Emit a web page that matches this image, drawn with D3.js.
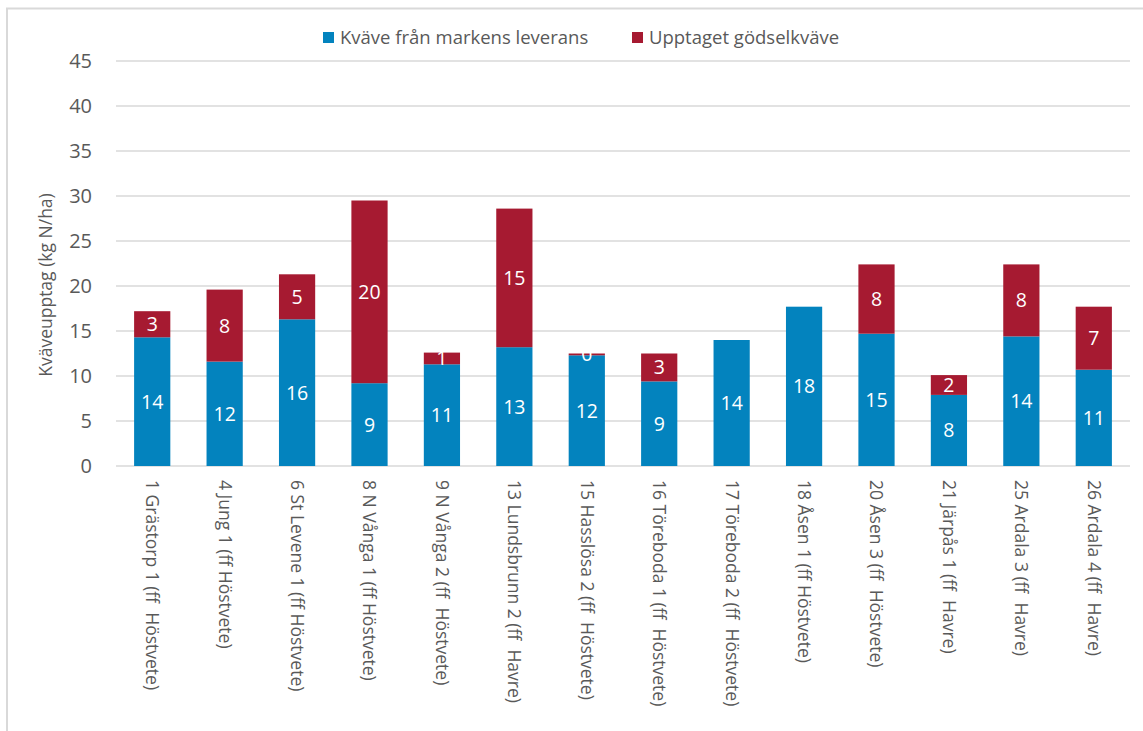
<!DOCTYPE html>
<html>
<head>
<meta charset="utf-8">
<script src="https://cdn.jsdelivr.net/npm/d3@7"></script>
<style>
  body { margin: 0; background: #fff; }
  text { font-family: "Open Sans", "Noto Sans", sans-serif; }
</style>
</head>
<body>
<div id="my_dataviz"></div>
<script>

// categories (sites)
var sites = ["1 Grästorp 1 (ff  Höstvete)", "4 Jung 1 (ff Höstvete)", "6 St Levene 1 (ff Höstvete)",
    "8 N Vånga 1 (ff Höstvete)", "9 N Vånga 2 (ff  Höstvete)", "13 Lundsbrunn 2 (ff  Havre)",
    "15 Hasslösa 2 (ff  Höstvete)", "16 Töreboda 1 (ff  Höstvete)", "17 Töreboda 2 (ff  Höstvete)",
    "18 Åsen 1 (ff Höstvete)", "20 Åsen 3 (ff  Höstvete)", "21 Järpås 1 (ff  Havre)",
    "25 Ardala 3 (ff  Havre)", "26 Ardala 4 (ff  Havre)"]

// series values
var markValues = [14.3, 11.6, 16.3, 9.2, 11.3, 13.2, 12.3, 9.4, 14.0, 17.7, 14.7, 7.9, 14.4, 10.7]
var godselValues = [2.9, 8.0, 5.0, 20.3, 1.3, 15.4, 0.2, 3.1, null, null, 7.7, 2.2, 8.0, 7.0]

var seriesNames = ["Kväve från markens leverans", "Upptaget gödselkväve"]
var yTicks = [0, 5, 10, 15, 20, 25, 30, 35, 40, 45]

var W = 1143, H = 731
var margin = {top: 61, left: 116, right: 13, bottom: 265}
var width = W - margin.left - margin.right,
    height = H - margin.top - margin.bottom

var svg = d3.select("#my_dataviz")
    .append("svg")
    .attr("width", W)
    .attr("height", H)

// outer chart border (only top and left show)
svg.append("path")
    .attr("d", "M7,731 V8.5 H1143")
    .style("fill", "none")
    .style("stroke", "#d9d9d9")
    .style("stroke-width", 2)

var g = svg.append("g")
    .attr("transform", "translate(" + margin.left + "," + margin.top + ")")

var color = d3.scaleOrdinal()
    .domain(seriesNames)
    .range(["#0383be", "#a61a31"])

var x = d3.scaleBand()
    .domain(sites)
    .range([0, width])
    .paddingInner(0.5)
    .paddingOuter(0.25)

var y = d3.scaleLinear()
    .domain([0, 45])
    .range([height, 0])

// gridlines
g.selectAll("grid")
    .data(yTicks).enter()
    .append("line")
    .attr("x1", 0)
    .attr("x2", width)
    .attr("y1", function(d) { return y(d) })
    .attr("y2", function(d) { return y(d) })
    .style("stroke", "#d9d9d9")
    .style("stroke-width", 1.5)

// y axis
var yAxis = g.append("g")
    .call(d3.axisLeft(y).tickValues(yTicks).tickSize(0).tickPadding(24))
yAxis.select(".domain").remove()
yAxis.selectAll("text")
    .style("font-size", "20px")
    .style("fill", "#595959")

svg.append("text")
    .attr("transform", "translate(46,285) rotate(-90)")
    .attr("text-anchor", "middle")
    .attr("dy", "0.35em")
    .style("font-size", "17.5px")
    .style("fill", "#595959")
    .text("Kväveupptag (kg N/ha)")

// stack the data
var rows = sites.map(function(s, i) {
    return {site: s, mark: markValues[i], godsel: godselValues[i] || 0, hasGodsel: godselValues[i] != null}
})
var stacked = d3.stack().keys(["mark", "godsel"])(rows)

var layers = g.selectAll("layer")
    .data(stacked).enter()
    .append("g")
    .style("fill", function(d, i) { return color(seriesNames[i]) })

layers.selectAll("rect")
    .data(function(d) { return d.filter(function(p) { return p[1] > p[0] }) })
    .enter()
    .append("rect")
    .attr("x", function(d) { return x(d.data.site) })
    .attr("width", x.bandwidth())
    .attr("y", function(d) { return y(d[1]) })
    .attr("height", function(d) { return y(d[0]) - y(d[1]) })

// value labels
stacked.forEach(function(layer, i) {
    g.selectAll("lab" + i)
        .data(layer.filter(function(p) { return i == 0 || p.data.hasGodsel }))
        .enter()
        .append("text")
        .attr("x", function(d) { return x(d.data.site) + x.bandwidth() / 2 })
        .attr("y", function(d) { return y((d[0] + d[1]) / 2) })
        .attr("dy", "0.36em")
        .attr("text-anchor", "middle")
        .style("fill", "white")
        .style("font-size", "19.5px")
        .text(function(d) { return Math.round(d[1] - d[0]) })
})

// x labels, rotated
g.selectAll("xlab")
    .data(sites).enter()
    .append("text")
    .attr("transform", function(d) {
        return "translate(" + (x(d) + x.bandwidth() / 2) + "," + (height + 14) + ") rotate(90)"
    })
    .attr("dy", "0.35em")
    .style("font-size", "17.5px")
    .style("fill", "#595959")
    .style("white-space", "pre")
    .text(function(d) { return d })

// legend
var legendX = [323, 632]
seriesNames.forEach(function(name, i) {
    svg.append("rect")
        .attr("x", legendX[i])
        .attr("y", 32)
        .attr("width", 11)
        .attr("height", 11)
        .style("fill", color(name))
    svg.append("text")
        .attr("x", legendX[i] + 17)
        .attr("y", 38)
        .attr("dy", "0.35em")
        .style("font-size", "18.5px")
        .style("fill", "#595959")
        .text(name)
})

</script>
</body>
</html>
